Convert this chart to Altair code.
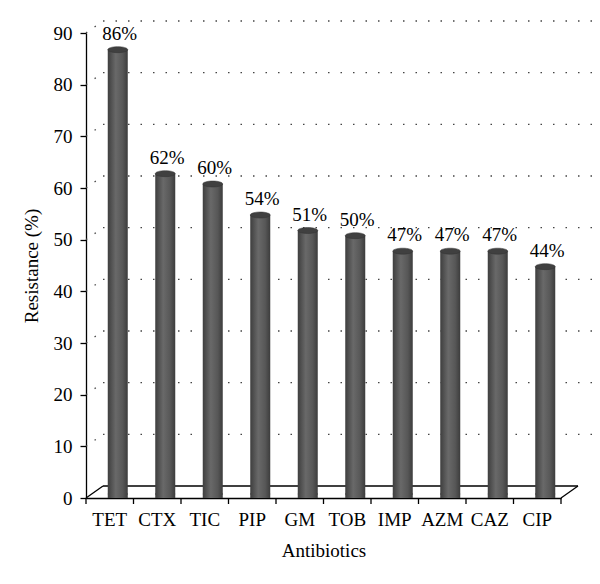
import altair as alt
import pandas as pd

categories = ["TET", "CTX", "TIC", "PIP", "GM", "TOB", "IMP", "AZM", "CAZ", "CIP"]
values = [86, 62, 60, 54, 51, 50, 47, 47, 47, 44]
labels = ["86%", "62%", "60%", "54%", "51%", "50%", "47%", "47%", "47%", "44%"]
grid_values = [10, 20, 30, 40, 50, 60, 70, 80, 90]

df = pd.DataFrame({"cat": categories, "val": values, "lab": labels, "zero": [0] * len(values)})
grid_df = pd.DataFrame({"v": grid_values})
floor_df = pd.DataFrame({"v": [0]})

FONT = "Liberation Serif"
FS = 19
W, H = 475, 465
DX, DY = 17, 12      # 3D depth of the floor / back wall
BX, BY = 8, 4        # bars sit in the middle of the depth

xscale = alt.Scale(paddingInner=0, paddingOuter=0)
xenc = alt.X("cat:N", sort=categories, title="Antibiotics", scale=xscale,
             axis=alt.Axis(labelAngle=0, labelAlign="center", ticks=False, grid=False,
                           domainColor="black", domainWidth=1.3, labelPadding=21,
                           labelFontSize=FS, labelColor="black", titleFontSize=FS,
                           titleFont=FONT, labelFont=FONT, titleFontWeight="normal",
                           titleColor="black", titlePadding=12))
yscale = alt.Scale(domain=[0, 90], nice=False)
yenc = alt.Y("val:Q", scale=yscale, title="Resistance (%)",
             axis=alt.Axis(values=[0, 10, 20, 30, 40, 50, 60, 70, 80, 90], grid=False,
                           domainColor="black", domainWidth=1.3, tickColor="black",
                           tickWidth=1.3, tickSize=6,
                           labelPadding=8, labelFontSize=FS, labelColor="black",
                           titleFontSize=FS, titleFont=FONT, labelFont=FONT,
                           titleFontWeight="normal", titleColor="black", titlePadding=12))

DOT = [1.5, 11]
grid = alt.Chart(grid_df).mark_rule(strokeDash=DOT, color="#444444", strokeWidth=1.3,
                                    yOffset=-DY).encode(
    y=alt.Y("v:Q", scale=yscale), x=alt.value(DX), x2=alt.value(W + 40))

side_grid = alt.Chart(grid_df).mark_rule(strokeDash=[1.5, 9], color="#444444", strokeWidth=1.3,
                                         y2Offset=-DY).encode(
    y=alt.Y("v:Q", scale=yscale), y2=alt.Y2("v:Q"), x=alt.value(0), x2=alt.value(DX))

floor_back = alt.Chart(floor_df).mark_rule(color="black", strokeWidth=1.3, yOffset=-DY).encode(
    y=alt.Y("v:Q", scale=yscale), x=alt.value(DX), x2=alt.value(W + DX))
diag_left = alt.Chart(floor_df).mark_rule(color="black", strokeWidth=1.3).encode(
    x=alt.value(0), y=alt.value(H), x2=alt.value(DX), y2=alt.value(H - DY))
diag_right = alt.Chart(floor_df).mark_rule(color="black", strokeWidth=1.3).encode(
    x=alt.value(W), y=alt.value(H), x2=alt.value(W + DX), y2=alt.value(H - DY))

# x-axis ticks on band boundaries
xticks = alt.Chart(df).mark_rule(color="black", strokeWidth=1.3).encode(
    x=alt.X("cat:N", sort=categories, bandPosition=0, scale=xscale),
    y=alt.value(H), y2=alt.value(H + 6))
xtick_end = alt.Chart(floor_df).mark_rule(color="black", strokeWidth=1.3).encode(
    x=alt.value(W), x2=alt.value(W), y=alt.value(H), y2=alt.value(H + 6))

grad = alt.Gradient(gradient="linear", x1=0, x2=1, y1=0, y2=0,
                    stops=[alt.GradientStop(color="#3e3e3e", offset=0),
                           alt.GradientStop(color="#696969", offset=0.4),
                           alt.GradientStop(color="#575757", offset=0.75),
                           alt.GradientStop(color="#3c3c3c", offset=1)])

ellipse = "M-1,0 A1,0.3 0 1,0 1,0 A1,0.3 0 1,0 -1,0 Z"

bars = alt.Chart(df).mark_bar(size=20, color=grad, xOffset=BX, yOffset=-BY).encode(
    x=xenc, y=yenc, y2=alt.Y2("zero:Q"))

bottoms = alt.Chart(df).mark_point(shape=ellipse, size=400, filled=True, opacity=1,
                                   color=grad, xOffset=BX, yOffset=-BY).encode(
    x=alt.X("cat:N", sort=categories), y=alt.Y("zero:Q", scale=yscale))

tops = alt.Chart(df).mark_point(shape=ellipse, size=400, filled=True, opacity=1,
                                color="#404040", stroke="#333333", strokeWidth=0.5,
                                xOffset=BX, yOffset=-BY).encode(
    x=alt.X("cat:N", sort=categories), y=alt.Y("val:Q", scale=yscale))

text = alt.Chart(df).mark_text(font=FONT, fontSize=FS, color="black", dy=-14, dx=BX + 2,
                               baseline="alphabetic").encode(
    x=alt.X("cat:N", sort=categories), y=alt.Y("val:Q", scale=yscale), text="lab:N")

chart = alt.layer(grid, side_grid, floor_back, diag_left, diag_right, xticks, xtick_end,
                  bottoms, bars, tops, text).properties(
    width=W, height=H, autosize=alt.AutoSizeParams(type="none"),
    padding={"left": 78, "top": 25, "right": 31, "bottom": 78},
    background="white"
).configure_view(stroke=None, strokeWidth=0)

chart.save("out.html", embed_options={"renderer": "svg", "actions": False})
